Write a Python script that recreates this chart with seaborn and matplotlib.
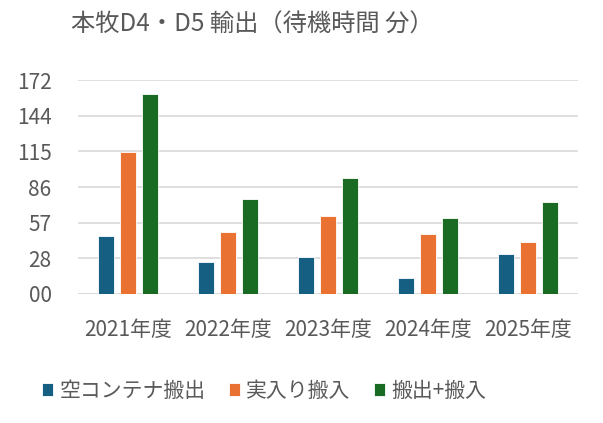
import matplotlib
matplotlib.use("Agg")
import matplotlib.pyplot as plt
import seaborn as sns
import pandas as pd
import numpy as np

## data
years = ["2021年度", "2022年度", "2023年度", "2024年度", "2025年度"]
empty_out = [47, 26, 30, 13, 32]      # 空コンテナ搬出
full_in = [114, 50, 63, 48, 42]       # 実入り搬入
out_plus_in = [161, 76, 93, 61, 74]   # 搬出+搬入
series_names = ["空コンテナ搬出", "実入り搬入", "搬出+搬入"]
ytick_labels = ["00", "28", "57", "86", "115", "144", "172"]

df = pd.DataFrame({
    "year": years * 3,
    "series": [s for s in series_names for _ in years],
    "value": empty_out + full_in + out_plus_in,
})

sns.set_style("white")
plt.rcParams["font.family"] = ["Noto Sans CJK JP", "DejaVu Sans"]
grey = "#595959"
palette = ["#156082", "#E97132", "#196B24"]

fig = plt.figure(figsize=(6.03, 4.23), dpi=100)
ax = fig.add_axes([78 / 603, 1 - 294 / 423, 500 / 603, 214 / 423])

sns.barplot(data=df, x="year", y="value", hue="series", palette=palette,
            saturation=1, width=0.66, gap=0.23, edgecolor="white",
            linewidth=0.6, ax=ax, legend=True)

ax.set_xlim(-0.5, 4.5)
ax.set_ylim(0, 172)
ax.set_yticks(np.linspace(0, 172, 7))
ax.set_yticklabels(ytick_labels)
ax.yaxis.grid(True, color="#d9d9d9", linewidth=1.2)
ax.set_axisbelow(True)
for sp in ax.spines.values():
    sp.set_visible(False)
ax.axhline(0, color="#d9d9d9", linewidth=1.2, zorder=0)
ax.tick_params(axis="y", length=0, pad=19, labelsize=15, labelcolor=grey)
ax.tick_params(axis="x", length=0, pad=18, labelsize=15, labelcolor=grey)
ax.set_xlabel("")
ax.set_ylabel("")

handles, labels = ax.get_legend_handles_labels()
ax.get_legend().remove()
fig.legend(handles, labels, loc="center", bbox_to_anchor=(264 / 603, 1 - 391 / 423),
           ncol=3, frameon=False, fontsize=15, labelcolor=grey,
           handlelength=0.55, handleheight=0.55, handletextpad=0.3,
           columnspacing=1.1)

fig.text(252 / 603, 1 - 25 / 423, "本牧D4・D5 輸出（待機時間 分）",
         ha="center", va="center", fontsize=17.5, color=grey)

fig.savefig("out.png", dpi=100)
